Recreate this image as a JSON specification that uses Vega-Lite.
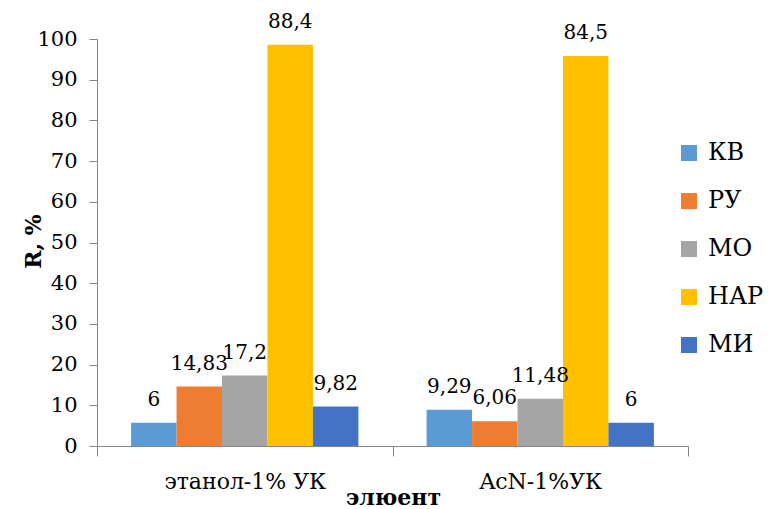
{
  "$schema": "https://vega.github.io/schema/vega-lite/v6.json",
  "width": 591,
  "height": 407,
  "autosize": "none",
  "padding": {"left": 97, "top": 39, "right": 84, "bottom": 63},
  "background": "white",
  "config": {
    "view": {"stroke": null},
    "font": "DejaVu Serif"
  },
  "data": {
    "values": [
      {"eluent": "этанол-1% УК", "series": "КВ", "value": 5.7, "label": "6"},
      {"eluent": "этанол-1% УК", "series": "РУ", "value": 14.6, "label": "14,83"},
      {"eluent": "этанол-1% УК", "series": "МО", "value": 17.3, "label": "17,2"},
      {"eluent": "этанол-1% УК", "series": "НАР", "value": 98.6, "label": "88,4"},
      {"eluent": "этанол-1% УК", "series": "МИ", "value": 9.7, "label": "9,82"},
      {"eluent": "AcN-1%УК", "series": "КВ", "value": 8.9, "label": "9,29"},
      {"eluent": "AcN-1%УК", "series": "РУ", "value": 6.1, "label": "6,06"},
      {"eluent": "AcN-1%УК", "series": "МО", "value": 11.6, "label": "11,48"},
      {"eluent": "AcN-1%УК", "series": "НАР", "value": 95.8, "label": "84,5"},
      {"eluent": "AcN-1%УК", "series": "МИ", "value": 5.7, "label": "6"}
    ]
  },
  "encoding": {
    "x": {
      "field": "eluent",
      "type": "nominal",
      "sort": ["этанол-1% УК", "AcN-1%УК"],
      "scale": {"paddingInner": 0, "paddingOuter": 0},
      "axis": {
        "title": "элюент",
        "titleFont": "DejaVu Serif",
        "titleFontSize": 22,
        "titleFontWeight": "bold",
        "titleColor": "black",
        "titleBaseline": "alphabetic",
        "titleX": 296,
        "titleY": 58,
        "titleAlign": "center",
        "labelAngle": 0,
        "labelFont": "DejaVu Serif",
        "labelFontSize": 22,
        "labelColor": "black",
        "labelBaseline": "alphabetic",
        "labelPadding": 32,
        "domainColor": "#868686",
        "tickColor": "#868686",
        "tickSize": 10,
        "tickBand": "extent"
      }
    },
    "xOffset": {
      "field": "series",
      "type": "nominal",
      "sort": ["КВ", "РУ", "МО", "НАР", "МИ"],
      "scale": {"paddingInner": 0, "paddingOuter": 0.75}
    },
    "y": {
      "field": "value",
      "type": "quantitative",
      "scale": {"domain": [0, 100], "nice": false},
      "axis": {
        "title": "R, %",
        "titleFont": "DejaVu Serif",
        "titleFontSize": 22,
        "titleFontWeight": "bold",
        "titleColor": "black",
        "titleAngle": -90,
        "titleBaseline": "alphabetic",
        "titleAlign": "center",
        "titleX": -57,
        "titleY": 202,
        "values": [0, 10, 20, 30, 40, 50, 60, 70, 80, 90, 100],
        "grid": false,
        "labelFont": "DejaVu Serif",
        "labelFontSize": 21,
        "labelColor": "black",
        "labelPadding": 12,
        "domainColor": "#868686",
        "tickColor": "#868686",
        "tickSize": 8
      }
    }
  },
  "layer": [
    {
      "mark": {"type": "bar"},
      "encoding": {
        "color": {
          "field": "series",
          "type": "nominal",
          "sort": ["КВ", "РУ", "МО", "НАР", "МИ"],
          "scale": {
            "domain": ["КВ", "РУ", "МО", "НАР", "МИ"],
            "range": ["#5B9BD5", "#ED7D31", "#A5A5A5", "#FFC000", "#4472C4"]
          },
          "legend": {
            "title": null,
            "orient": "none",
            "legendX": 580,
            "legendY": 102,
            "symbolType": "square",
            "symbolSize": 256,
            "symbolStrokeWidth": 0,
            "labelFont": "DejaVu Serif",
            "labelFontSize": 24,
            "labelColor": "black",
            "labelOffset": 7,
            "rowPadding": 24
          }
        }
      }
    },
    {
      "mark": {
        "type": "text",
        "baseline": "alphabetic",
        "dy": -17,
        "font": "DejaVu Serif",
        "fontSize": 20,
        "color": "black"
      },
      "encoding": {
        "text": {"field": "label", "type": "nominal"}
      }
    }
  ]
}
